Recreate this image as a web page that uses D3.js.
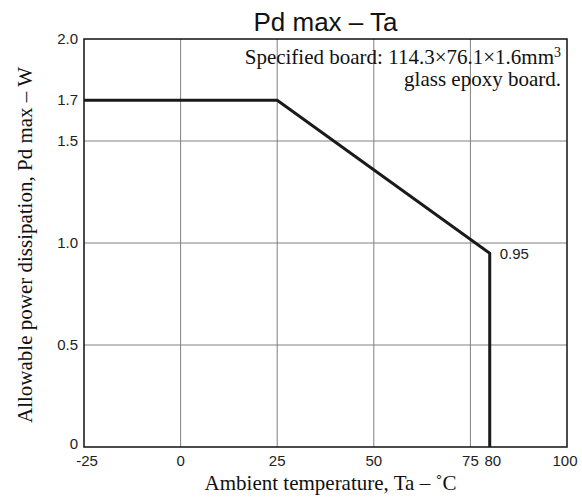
<!DOCTYPE html>
<html>
<head>
<meta charset="utf-8">
<script src="https://cdn.jsdelivr.net/npm/d3@7"></script>
<style>
  body { margin: 0; background: #fff; }
  .sans { font-family: "Liberation Sans", Arial, sans-serif; }
  .serif { font-family: "Liberation Serif", "Times New Roman", serif; }
</style>
</head>
<body>
<div id="chart"></div>
<script>
// derating curve, Ta (°C) vs Pd max (W)
var curveTa = [-25, 25, 80, 80],
  curvePd = [1.7, 1.7, 0.95, 0],
  xTicks = [-25, 0, 25, 50, 75, 80, 100],
  xGrid = [0, 25, 50, 75],
  yTicks = [0, 0.5, 1.0, 1.5, 1.7, 2.0],
  yGrid = [0.5, 1.0, 1.5];

var width = 582,
  height = 499,
  margin = {top: 39, right: 15, bottom: 52, left: 84};

var svg = d3.select('#chart')
  .append('svg')
  .attr('width', width)
  .attr('height', height);

var x = d3.scaleLinear().domain([-25, 100]).range([margin.left, width - margin.right]),
  y = d3.scaleLinear().domain([0, 2]).range([height - margin.bottom, margin.top]);

// grid
svg.append('g')
  .selectAll('line')
  .data(xGrid)
  .enter()
  .append('line')
  .attr('x1', x).attr('x2', x)
  .attr('y1', y(0)).attr('y2', y(2))
  .style('stroke', '#808080')
  .style('stroke-width', 1);

svg.append('g')
  .selectAll('line')
  .data(yGrid)
  .enter()
  .append('line')
  .attr('y1', y).attr('y2', y)
  .attr('x1', x(-25)).attr('x2', x(100))
  .style('stroke', '#808080')
  .style('stroke-width', 1);

// frame
svg.append('rect')
  .attr('x', x(-25)).attr('y', y(2))
  .attr('width', x(100) - x(-25))
  .attr('height', y(0) - y(2))
  .style('fill', 'none')
  .style('stroke', '#111')
  .style('stroke-width', 1.5);

// curve
var line = d3.line()
  .x(function(d, i) { return x(curveTa[i]); })
  .y(function(d, i) { return y(curvePd[i]); });

svg.append('path')
  .datum(curveTa)
  .attr('d', line)
  .style('fill', 'none')
  .style('stroke', '#1a1a1a')
  .style('stroke-width', 3)
  .style('stroke-linejoin', 'miter');

// tick labels
svg.append('g')
  .attr('class', 'sans')
  .selectAll('text')
  .data(xTicks)
  .enter()
  .append('text')
  .attr('x', function(d) { return x(d) + (d === 100 ? -2 : d === -25 ? 3 : d === 80 ? 3 : 0); })
  .attr('y', y(0) + 19)
  .attr('text-anchor', 'middle')
  .style('font-size', '15px')
  .style('fill', '#222')
  .text(function(d) { return d; });

svg.append('g')
  .attr('class', 'sans')
  .selectAll('text')
  .data(yTicks)
  .enter()
  .append('text')
  .attr('x', x(-25) - 6)
  .attr('y', function(d) { return y(d) + (d === 0 ? 2 : 5); })
  .attr('text-anchor', 'end')
  .style('font-size', '15px')
  .style('fill', '#222')
  .text(function(d) { return d === 0 ? '0' : d.toFixed(1); });

svg.append('text')
  .attr('class', 'sans')
  .attr('x', x(80) + 10)
  .attr('y', y(0.95) + 6)
  .style('font-size', '15px')
  .style('fill', '#222')
  .text('0.95');

// title
svg.append('text')
  .attr('class', 'sans')
  .attr('x', (x(-25) + x(100)) / 2)
  .attr('y', 31)
  .attr('text-anchor', 'middle')
  .style('font-size', '26px')
  .style('fill', '#111')
  .text('Pd max – Ta');

// board note
var note = svg.append('text')
  .attr('class', 'serif')
  .attr('x', x(100) - 6)
  .attr('y', 64)
  .attr('text-anchor', 'end')
  .style('font-size', '21px')
  .style('fill', '#111');
note.append('tspan').text('Specified board: 114.3×76.1×1.6mm');
note.append('tspan').attr('dy', -7).style('font-size', '14px').text('3');

svg.append('text')
  .attr('class', 'serif')
  .attr('x', x(100) - 6)
  .attr('y', 86)
  .attr('text-anchor', 'end')
  .style('font-size', '21px')
  .style('fill', '#111')
  .text('glass epoxy board.');

// axis titles
svg.append('text')
  .attr('class', 'serif')
  .attr('x', (x(-25) + x(100)) / 2 + 5)
  .attr('y', 490)
  .attr('text-anchor', 'middle')
  .style('font-size', '21px')
  .style('fill', '#111')
  .text('Ambient temperature, Ta – ˚C');

svg.append('text')
  .attr('class', 'serif')
  .attr('transform', 'translate(32,' + (y(1) + 2) + ') rotate(-90)')
  .attr('text-anchor', 'middle')
  .style('font-size', '21px')
  .style('fill', '#111')
  .text('Allowable power dissipation, Pd max – W');
</script>
</body>
</html>
